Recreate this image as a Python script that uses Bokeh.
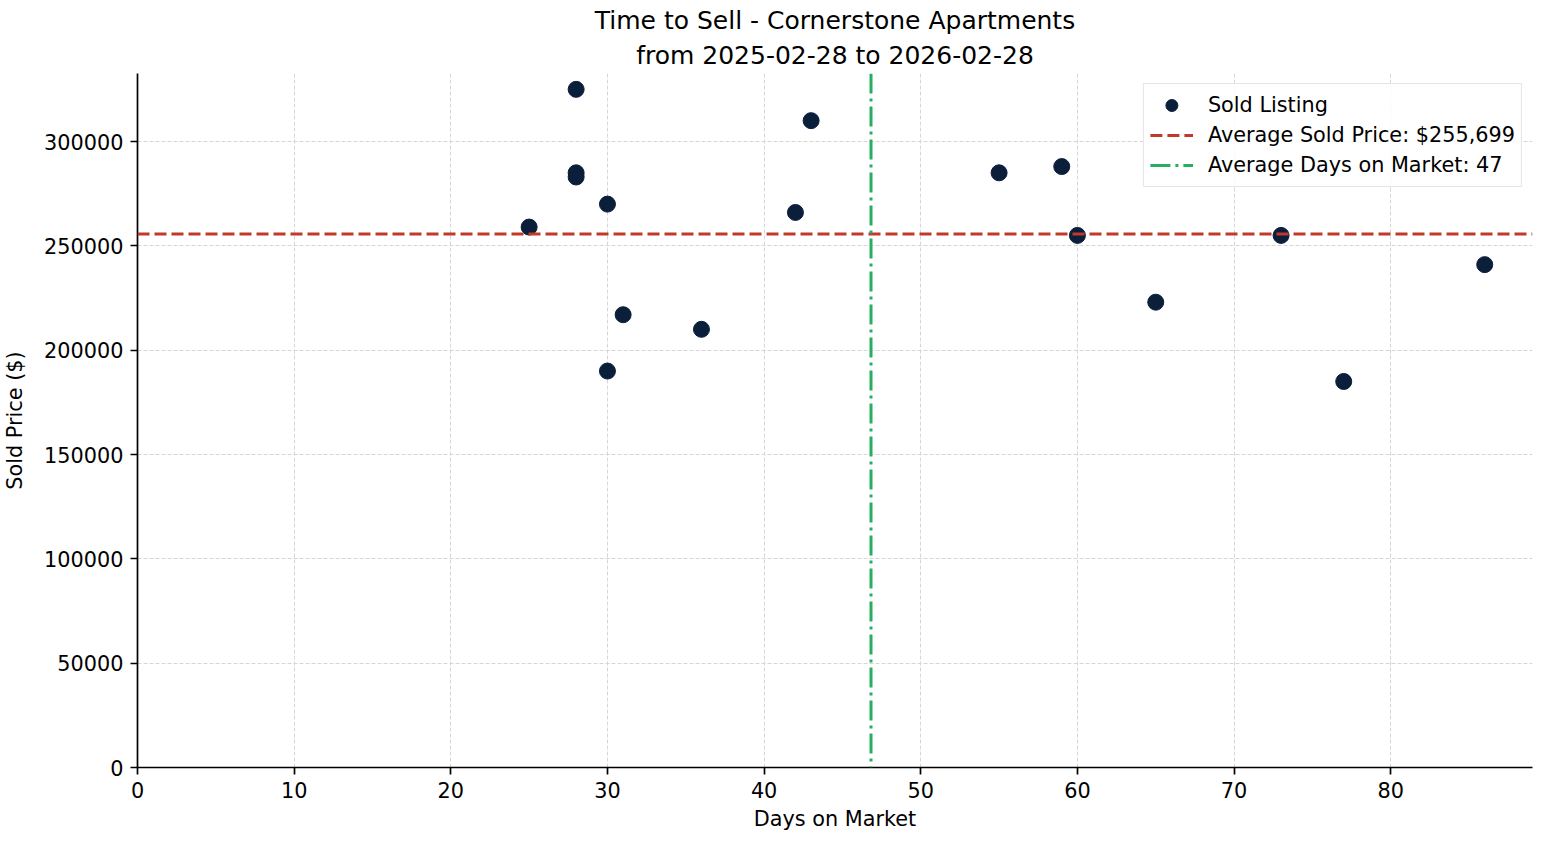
from bokeh.plotting import figure
from bokeh.models import (Span, Legend, LegendItem, Title, SingleIntervalTicker,
                          BasicTickFormatter, ColumnDataSource)
from bokeh.embed import file_html
from bokeh.resources import INLINE

# ---- data ----
days = [25, 28, 28, 28, 30, 30, 31, 36, 42, 43, 55, 59, 60, 65, 73, 77, 86]
prices = [259000, 325000, 285000, 283000, 270000, 190000, 217000, 210000,
          266000, 310000, 285000, 288000, 255000, 223000, 255000, 185000, 241000]
avg_price = 255699
avg_days = sum(days) / len(days)

title_line1 = "Time to Sell - Cornerstone Apartments"
title_line2 = "from 2025-02-28 to 2026-02-28"
x_label = "Days on Market"
y_label = "Sold Price ($)"
label_points = "Sold Listing"
label_price = "Average Sold Price: $255,699"
label_days = "Average Days on Market: 47"

x_end = 89.05
y_end = 332600

FONT = "DejaVu Sans"
NAVY = "#0b1f3b"
RED = "#c0392b"
GREEN = "#27ae60"

p = figure(width=1539, height=837, x_range=(0, x_end), y_range=(0, y_end),
           output_backend="svg", toolbar_location=None,
           min_border_left=137, min_border_right=7, min_border_top=73,
           min_border_bottom=70)
p.outline_line_color = None
p.background_fill_color = "white"
p.border_fill_color = "white"

# titles (bottom line added first so it sits closest to the plot)
t2 = Title(text=title_line2, align="center", text_font=FONT, text_font_size="25px",
           text_font_style="normal", text_color="black", standoff=8)
t1 = Title(text=title_line1, align="center", text_font=FONT, text_font_size="25px",
           text_font_style="normal", text_color="black", standoff=0)
p.add_layout(t2, "above")
p.add_layout(t1, "above")

src = ColumnDataSource(dict(x=days, y=prices))
pts = p.scatter("x", "y", source=src, size=16, fill_color=NAVY, line_color=NAVY)

hspan = Span(location=avg_price, dimension="width", line_color=RED, line_width=3,
             line_dash="12 5")
vspan = Span(location=avg_days, dimension="height", line_color=GREEN, line_width=3,
             line_dash="20 5 3 5")
p.add_layout(hspan)
p.add_layout(vspan)

# legend proxies: single-point lines draw nothing on the plot, only legend glyphs
dummy_h = p.line([avg_days], [avg_price], line_color=RED, line_width=3, line_dash="12 5")
dummy_v = p.line([avg_days], [avg_price], line_color=GREEN, line_width=3, line_dash="20 5 3 5")

legend = Legend(items=[LegendItem(label=label_points, renderers=[pts]),
                       LegendItem(label=label_price, renderers=[dummy_h]),
                       LegendItem(label=label_days, renderers=[dummy_v])],
                location="top_right")
legend.label_text_font = FONT
legend.label_text_font_size = "20.8px"
legend.label_text_color = "black"
legend.glyph_width = 43
legend.glyph_height = 30
legend.label_height = 30
legend.spacing = 0
legend.label_standoff = 15
legend.padding = 6
legend.margin = 10
legend.border_line_color = "#cccccc"
legend.border_line_width = 1.5
legend.background_fill_alpha = 0.85
p.add_layout(legend)

# axes
for ax in (p.xaxis[0], p.yaxis[0]):
    ax.axis_line_color = "black"
    ax.axis_line_width = 1.7
    ax.major_tick_line_color = "black"
    ax.major_tick_line_width = 1.7
    ax.major_tick_out = 7
    ax.major_tick_in = 0
    ax.minor_tick_line_color = None
    ax.major_label_text_font = FONT
    ax.major_label_text_font_size = "20.8px"
    ax.major_label_text_color = "black"
    ax.major_label_standoff = 7
    ax.axis_label_text_font = FONT
    ax.axis_label_text_font_size = "20.8px"
    ax.axis_label_text_font_style = "normal"
    ax.axis_label_text_color = "black"

p.xaxis[0].axis_label_standoff = 6
p.yaxis[0].axis_label_standoff = 14
p.xaxis[0].axis_label = x_label
p.yaxis[0].axis_label = y_label
p.xaxis[0].ticker = SingleIntervalTicker(interval=10)
p.yaxis[0].ticker = SingleIntervalTicker(interval=50000)
p.yaxis[0].formatter = BasicTickFormatter(use_scientific=False)

for g in (p.xgrid[0], p.ygrid[0]):
    g.grid_line_color = "#d6d6d6"
    g.grid_line_width = 1
    g.grid_line_dash = "4 2"
p.xgrid[0].ticker = p.xaxis[0].ticker
p.ygrid[0].ticker = p.yaxis[0].ticker

open("out.html", "w").write(file_html(p, INLINE))
